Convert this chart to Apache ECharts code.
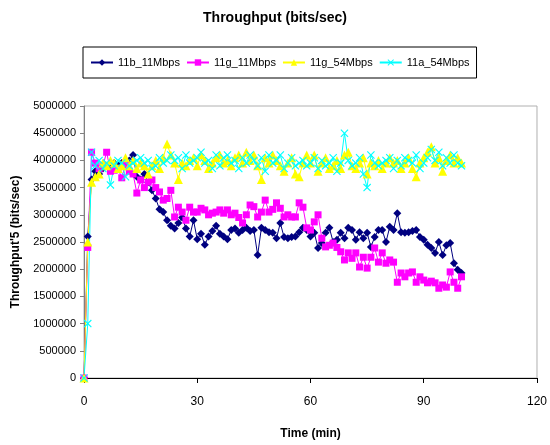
<!DOCTYPE html>
<html><head><meta charset="utf-8">
<script src="https://cdn.jsdelivr.net/npm/echarts@6/dist/echarts.min.js"></script>
<style>html,body{margin:0;padding:0;background:#fff}#c{width:550px;height:445px}</style>
</head><body><div id="c"></div>
<script>
var times = [];
for (var t = 0; t <= 100; t++) times.push(t);
var s11b = [0,2.6,3.65,3.8,3.75,3.85,3.9,3.85,3.95,3.9,3.95,3.95,4.0,4.1,3.7,3.65,3.75,3.6,3.45,3.3,3.1,3.05,2.9,2.8,2.75,2.85,2.95,2.75,2.6,2.9,2.55,2.65,2.45,2.6,2.7,2.8,2.65,2.6,2.55,2.72,2.75,2.67,2.72,2.76,2.7,2.72,2.26,2.76,2.72,2.68,2.67,2.57,2.85,2.59,2.57,2.59,2.6,2.68,2.76,2.72,2.6,2.67,2.39,2.48,2.67,2.76,2.5,2.54,2.67,2.57,2.76,2.72,2.54,2.68,2.57,2.67,2.41,2.59,2.72,2.72,2.5,2.78,2.72,3.03,2.68,2.67,2.68,2.7,2.72,2.59,2.54,2.45,2.39,2.3,2.5,2.26,2.44,2.48,2.11,1.99,1.93];
var s11g11 = [0,2.4,4.15,3.95,3.85,3.9,4.15,3.8,3.82,3.85,3.68,3.92,3.8,3.75,3.4,3.64,3.5,3.6,3.64,3.5,3.42,3.27,3.3,3.45,2.96,3.14,3.05,2.9,3.14,3.05,3.05,3.12,3.09,3.0,3.03,3.05,3.09,3.03,3.09,3.0,3.03,2.95,2.85,3.0,3.18,3.15,2.96,3.05,3.27,3.05,3.1,3.22,3.12,2.96,3.0,2.96,2.96,3.22,3.14,2.76,2.72,2.87,3.0,2.57,2.41,2.44,2.48,2.4,2.32,2.17,2.3,2.2,2.3,2.04,2.22,2.02,2.22,2.39,2.13,2.3,2.11,2.17,2.13,1.76,1.93,1.86,1.93,1.95,1.76,1.86,1.8,1.75,1.78,1.75,1.65,1.71,1.67,1.95,1.76,1.65,1.86];
var s11g54 = [0,2.5,3.6,3.7,3.75,3.95,3.9,4.0,3.95,3.85,3.9,4.05,3.9,4.0,3.85,3.95,3.9,3.75,3.9,4.0,3.85,4.05,4.3,4.1,3.95,3.65,3.95,3.9,4.0,4.05,3.9,4.1,4.0,3.85,3.95,4.05,4.1,3.95,4.0,3.9,4.05,4.1,3.95,4.15,4.0,4.1,3.9,3.65,4.05,3.95,4.1,4.0,3.9,3.8,3.95,4.05,3.75,3.7,3.95,4.1,3.95,4.1,3.8,3.95,4.05,3.85,3.9,4.0,3.85,4.1,4.15,3.9,3.85,3.95,4.05,3.75,3.95,3.9,4.0,3.85,3.95,4.05,3.95,4.0,3.85,3.95,4.05,3.85,3.7,3.95,4.05,4.15,4.25,3.95,4.05,3.8,4.0,4.1,3.95,4.05,3.95];
var s11a54 = [0,1.0,4.15,3.9,4.0,3.85,3.95,3.55,3.9,4.0,3.95,3.7,3.9,3.95,4.0,4.05,3.95,4.0,3.85,3.9,4.05,3.95,4.0,4.1,4.0,4.05,3.85,4.1,3.95,4.0,4.05,4.15,3.95,4.0,3.85,4.1,3.9,4.05,4.1,3.95,4.0,3.85,4.05,3.95,4.1,4.0,3.9,4.05,3.8,4.1,3.95,4.0,4.1,3.85,3.95,4.05,3.9,3.95,4.0,3.9,3.95,4.05,3.85,4.0,3.9,3.95,4.05,3.8,3.95,4.5,4.0,3.9,3.95,4.05,3.75,3.5,4.1,3.95,3.9,3.95,4.0,4.05,3.85,4.0,3.9,4.05,4.0,3.95,4.1,3.85,3.95,4.05,4.2,4.0,4.15,3.9,4.05,3.95,4.1,3.95,3.9];
var seriesNames = ['11b_11Mbps','11g_11Mbps','11g_54Mbps','11a_54Mbps'];
var yTicks = [0,500000,1000000,1500000,2000000,2500000,3000000,3500000,4000000,4500000,5000000];
var xTicks = [0,30,60,90,120];

function pairs(arr){ return arr.map(function(v,i){ return [times[i], Math.round(v*1e6)]; }); }
var crossPath = 'path://M0,1 L1,0 L5,4 L9,0 L10,1 L6,5 L10,9 L9,10 L5,6 L1,10 L0,9 L4,5 Z';
var colors = ['#000080','#ff00ff','#ffff00','#00ffff'];
var symbols = ['diamond','rect',  'triangle', crossPath];
var sizes = [8,7,9,8];
var datas = [s11b, s11g11, s11g54, s11a54];
var font = 'Arial, "Liberation Sans", sans-serif';

var series = datas.map(function(d,i){
  return {
    name: seriesNames[i], type:'line', data: pairs(d),
    symbol: symbols[i], symbolSize: sizes[i], showAllSymbol: true,
    lineStyle:{color:colors[i], width:1}, itemStyle:{color:colors[i]},
    emphasis:{disabled:true}, animation:false
  };
});

var chart = echarts.init(document.getElementById('c'));
chart.setOption({
  backgroundColor:'#fff',
  animation:false,
  title:{text:'Throughput (bits/sec)', left:'center', top:6,
    textStyle:{fontFamily:font, fontSize:14, fontWeight:'bold', color:'#000'}},
  legend:{data:seriesNames, left:83, top:47,
    borderColor:'#000', borderWidth:1, padding:[10,7,10,7], itemGap:6, itemWidth:22, itemHeight:8,
    textStyle:{fontFamily:font, fontSize:11, color:'#000'}},
  grid:{left:84, right:11, top:106, bottom:67, show:true, borderColor:'#b0b0b0', borderWidth:1, containLabel:false},
  xAxis:{type:'value', min:0, max:120, interval:30,
    name:'Time (min)', nameLocation:'middle', nameGap:50,
    nameTextStyle:{fontFamily:font, fontSize:12, fontWeight:'bold', color:'#000'},
    axisLine:{lineStyle:{color:'#000', width:1}}, axisTick:{show:true, length:5, lineStyle:{color:'#000'}},
    axisLabel:{fontFamily:font, fontSize:12, color:'#000', margin:18, formatter:function(v){return xTicks.indexOf(v)>=0?String(v):'';}},
    splitLine:{show:false}},
  yAxis:{type:'value', min:0, max:5000000, interval:500000,
    name:"Throughput'5 (bits/sec)", nameLocation:'middle', nameGap:62, nameRotate:90,
    nameTextStyle:{fontFamily:font, fontSize:12, fontWeight:'bold', color:'#000'},
    axisLine:{show:true, lineStyle:{color:'#808080', width:1}}, axisTick:{show:true, length:4, lineStyle:{color:'#808080'}},
    axisLabel:{fontFamily:font, fontSize:11, color:'#000', margin:8, formatter:function(v){return yTicks.indexOf(v)>=0?String(v):'';}},
    splitLine:{show:false}},
  series: series
});
</script></body></html>
